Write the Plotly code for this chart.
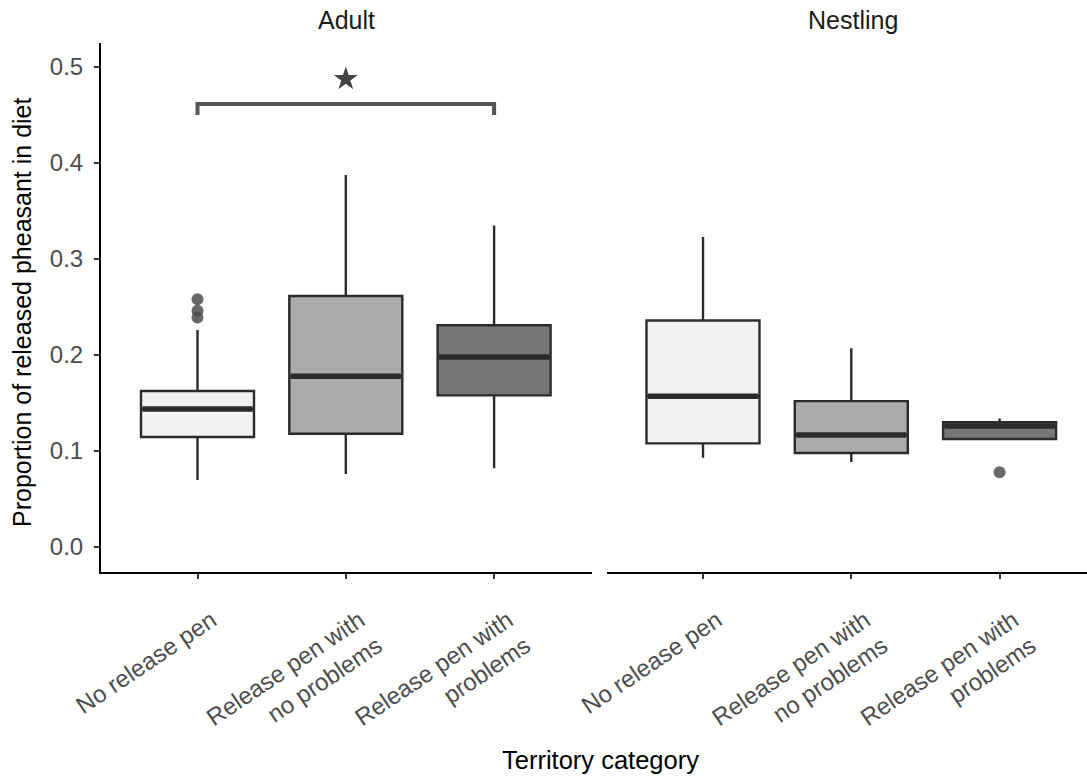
import plotly.graph_objects as go

# ---- data ----
categories = ["No release pen", "Release pen with<br>no problems", "Release pen with<br>problems"]
facets = ["Adult", "Nestling"]

adult_q1 = [0.1146, 0.118, 0.158]
adult_median = [0.1438, 0.178, 0.198]
adult_q3 = [0.1625, 0.2615, 0.231]
adult_lower = [0.0698, 0.076, 0.082]
adult_upper = [0.226, 0.3875, 0.335]
adult_outlier_cat = [0, 0, 0]
adult_outlier_val = [0.258, 0.246, 0.239]

nest_q1 = [0.108, 0.098, 0.1125]
nest_median = [0.157, 0.1167, 0.126]
nest_q3 = [0.236, 0.152, 0.130]
nest_lower = [0.093, 0.0885, 0.1125]
nest_upper = [0.323, 0.207, 0.134]
nest_outlier_cat = [2]
nest_outlier_val = [0.078]

fills = ["#F2F2F2", "#ABABAB", "#767676"]

# significance bracket (Adult panel): categories 0 vs 2
sig_from, sig_to = 0, 2
sig_y, sig_tip = 0.4615, 0.450
sig_label_y = 0.4875

# ---- figure ----
LINE = "#2B2B2B"
BOXW = 0.762
FONT = "Liberation Sans, Arial, sans-serif"

fig = go.Figure()

panels = [
    ("x", "y", adult_q1, adult_median, adult_q3, adult_lower, adult_upper, adult_outlier_cat, adult_outlier_val),
    ("x2", "y2", nest_q1, nest_median, nest_q3, nest_lower, nest_upper, nest_outlier_cat, nest_outlier_val),
]

for xa, ya, q1, med, q3, lo, up, ocat, oval in panels:
    for i in range(len(categories)):
        fig.add_trace(go.Box(
            x=[i], q1=[q1[i]], median=[med[i]], q3=[q3[i]],
            lowerfence=[lo[i]], upperfence=[up[i]],
            width=BOXW, whiskerwidth=0, boxpoints=False,
            fillcolor=fills[i], line=dict(color=LINE, width=2.4),
            xaxis=xa, yaxis=ya, showlegend=False, hoverinfo="skip",
        ))
        # thick median line
        fig.add_trace(go.Scatter(
            x=[i - BOXW / 2 + 0.01, i + BOXW / 2 - 0.01], y=[med[i], med[i]],
            mode="lines", line=dict(color=LINE, width=5.5),
            xaxis=xa, yaxis=ya, showlegend=False, hoverinfo="skip",
        ))
    fig.add_trace(go.Scatter(
        x=ocat, y=oval, mode="markers",
        marker=dict(color="#4D4D4D", size=12, opacity=0.85, line=dict(width=0)),
        xaxis=xa, yaxis=ya, showlegend=False, hoverinfo="skip",
    ))

# significance bracket
fig.add_trace(go.Scatter(
    x=[sig_from, sig_from, sig_to, sig_to], y=[sig_tip, sig_y, sig_y, sig_tip],
    mode="lines", line=dict(color="#555555", width=4),
    xaxis="x", yaxis="y", showlegend=False, hoverinfo="skip",
))
fig.add_trace(go.Scatter(
    x=[(sig_from + sig_to) / 2], y=[sig_label_y], mode="markers",
    marker=dict(symbol="star", size=18, color="#444444", line=dict(width=0)),
    xaxis="x", yaxis="y", showlegend=False, hoverinfo="skip",
))

L, R, T, B = 101, 0, 43, 204
W, H = 1087, 776
pw = W - L - R
ph = H - T - B
unit = 148.3
# panel pixel extents
p1 = (101, 592)
p2 = (607, 1087)
c1 = 197.5
c2 = 703

tick_style = dict(
    ticks="outside", ticklen=5, tickwidth=1.6, tickcolor="#333333",
    tickfont=dict(family=FONT, size=24, color="#4D4D4D"),
    showgrid=False, zeroline=False,
)
xtick_extra = dict(tickangle=-34, ticklabelstandoff=18, ticklabelshift=14)

fig.update_layout(
    width=W, height=H,
    margin=dict(l=L, r=R, t=T, b=B, pad=0),
    plot_bgcolor="white", paper_bgcolor="white",
    showlegend=False,
    xaxis=dict(
        domain=[0, (p1[1] - L) / pw],
        range=[(p1[0] - c1) / unit, (p1[1] - c1) / unit],
        tickmode="array", tickvals=list(range(len(categories))), ticktext=categories,
        showline=True, linecolor="black", linewidth=2,
        anchor="y", **tick_style, **xtick_extra,
    ),
    xaxis2=dict(
        domain=[(p2[0] - L) / pw, 1],
        range=[(p2[0] - c2) / unit, (p2[1] - c2) / unit],
        tickmode="array", tickvals=list(range(len(categories))), ticktext=categories,
        showline=True, linecolor="black", linewidth=2,
        anchor="y2", **tick_style, **xtick_extra,
    ),
    yaxis=dict(
        domain=[0, 1], range=[-0.026, 0.525],
        tickmode="array", tickvals=[0, 0.1, 0.2, 0.3, 0.4, 0.5],
        ticktext=["0.0", "0.1", "0.2", "0.3", "0.4", "0.5"],
        showline=True, linecolor="black", linewidth=2,
        ticklabelstandoff=6, anchor="x", **tick_style,
    ),
    yaxis2=dict(
        domain=[0, 1], range=[-0.026, 0.525], anchor="x2",
        showline=False, showticklabels=False, ticks="", showgrid=False, zeroline=False,
    ),
    annotations=[
        dict(text=facets[0], x=((p1[0] + p1[1]) / 2 - L) / pw, y=(H - B - 20) / ph,
             xref="paper", yref="paper", showarrow=False, xanchor="center", yanchor="middle",
             font=dict(family=FONT, size=25, color="#1A1A1A")),
        dict(text=facets[1], x=((p2[0] + 1098) / 2 - L) / pw, y=(H - B - 20) / ph,
             xref="paper", yref="paper", showarrow=False, xanchor="center", yanchor="middle",
             font=dict(family=FONT, size=25, color="#1A1A1A")),
        dict(text="Territory category", x=(600 - L) / pw, y=(H - B - 760) / ph,
             xref="paper", yref="paper", showarrow=False, xanchor="center", yanchor="middle",
             font=dict(family=FONT, size=25.5, color="black")),
        dict(text="Proportion of released pheasant in diet", x=(22 - L) / pw, y=(H - B - 312) / ph,
             xref="paper", yref="paper", showarrow=False, xanchor="center", yanchor="middle",
             textangle=-90, font=dict(family=FONT, size=25, color="black")),
    ],
)

fig.write_html("out.html")
